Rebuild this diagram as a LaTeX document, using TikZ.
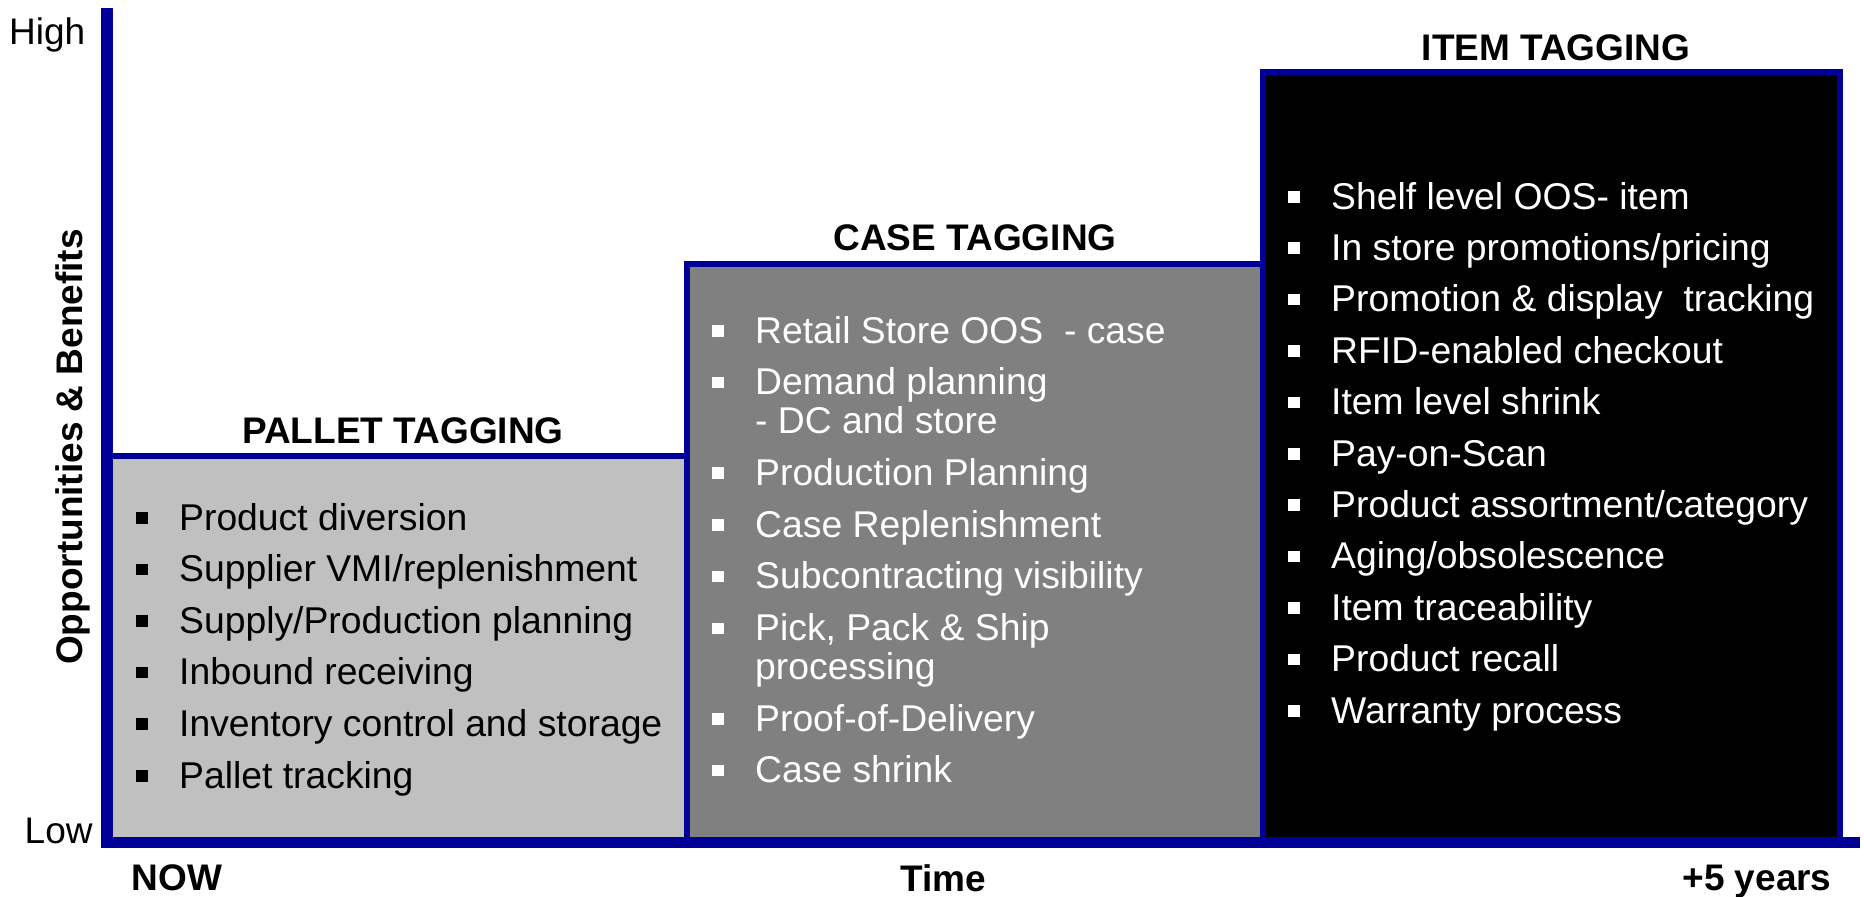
\documentclass[tikz,border=0pt]{standalone}
\usepackage{fontspec}
\setmainfont{Liberation Sans}
\definecolor{axisblue}{RGB}{0,0,153}
\definecolor{palletgray}{RGB}{192,192,192}
\definecolor{casegray}{RGB}{128,128,128}

% one bulleted line: node name, text x, baseline y, text
\newcommand\stageitem[4]{%
  \fill (#2-43,#3-6.5) rectangle (#2-31.5,#3-18);
  \node[entry] (#1) at (#2,#3) {#4};}
% a continuation line without bullet
\newcommand\stagecont[4]{%
  \node[entry] (#1) at (#2,#3) {#4};}

\begin{document}
\begin{tikzpicture}[x=1pt,y=-1pt,
  stagebox/.style={draw=axisblue, line width=6pt},
  entry/.style={inner sep=0pt, anchor=base west, font=\fontsize{37.3}{37.3}\selectfont},
  head/.style={inner sep=0pt, anchor=base, font=\fontsize{37}{37}\selectfont\bfseries},
  plain/.style={inner sep=0pt, anchor=base west, font=\fontsize{37}{37}\selectfont},
]
\useasboundingbox (0,0) rectangle (1864,897);

% stage boxes
\draw[stagebox, fill=palletgray] (110,456) rectangle (687,840);
\draw[stagebox, fill=casegray]   (687,264) rectangle (1263,840);
\draw[stagebox, fill=black]      (1263,72) rectangle (1839.5,840);

% axes
\fill[axisblue] (101,8) rectangle (113,848);
\fill[axisblue] (101,837) rectangle (1860,848);

% stage titles
\node[head] (tpallet) at (403,443) {PALLET TAGGING};
\node[head] (tcase)   at (975,250)   {CASE TAGGING};
\node[head] (titem)   at (1556,60)   {ITEM TAGGING};

% axis labels
\node[plain] (high) at (9,44)    {High};
\node[plain] (low)  at (24.5,843) {Low};
\node[head, rotate=90] (yaxis) at (82,447) {Opportunities \& Benefits};
\node[head] (now)  at (177,890)  {NOW};
\node[head] (time) at (943,891)  {Time};
\node[head] (plus) at (1757,890) {+5 years};

% pallet tagging
\begin{scope}[color=black]
\stageitem{p1}{179}{530}{Product diversion}
\stageitem{p2}{179}{581.6}{Supplier VMI/replenishment}
\stageitem{p3}{179}{633.2}{Supply/Production planning}
\stageitem{p4}{179}{684.8}{Inbound receiving}
\stageitem{p5}{179}{736.4}{Inventory control and storage}
\stageitem{p6}{179}{788}{Pallet tracking}
\end{scope}

% case tagging
\begin{scope}[color=white]
\stageitem{c1}{755}{343}{Retail Store OOS\ \ - case}
\stageitem{c2}{755}{394.7}{Demand planning}
\stagecont{c2b}{755}{433.7}{- DC and store}
\stageitem{c3}{755}{485.4}{Production Planning}
\stageitem{c4}{755}{537.1}{Case Replenishment}
\stageitem{c5}{755}{588.8}{Subcontracting visibility}
\stageitem{c6}{755}{640.5}{Pick, Pack \& Ship}
\stagecont{c6b}{755}{679.5}{processing}
\stageitem{c7}{755}{731.2}{Proof-of-Delivery}
\stageitem{c8}{755}{782.9}{Case shrink}
\end{scope}

% item tagging
\begin{scope}[color=white]
\stageitem{i1}{1331}{209}{Shelf level OOS- item}
\stageitem{i2}{1331}{260.4}{In store promotions/pricing}
\stageitem{i3}{1331}{311.8}{Promotion \& display\ \ tracking}
\stageitem{i4}{1331}{363.2}{RFID-enabled checkout}
\stageitem{i5}{1331}{414.6}{Item level shrink}
\stageitem{i6}{1331}{466}{Pay-on-Scan}
\stageitem{i7}{1331}{517.4}{Product assortment/category}
\stageitem{i8}{1331}{568.8}{Aging/obsolescence}
\stageitem{i9}{1331}{620.2}{Item traceability}
\stageitem{i10}{1331}{671.6}{Product recall}
\stageitem{i11}{1331}{723}{Warranty process}
\end{scope}
\end{tikzpicture}
\end{document}
